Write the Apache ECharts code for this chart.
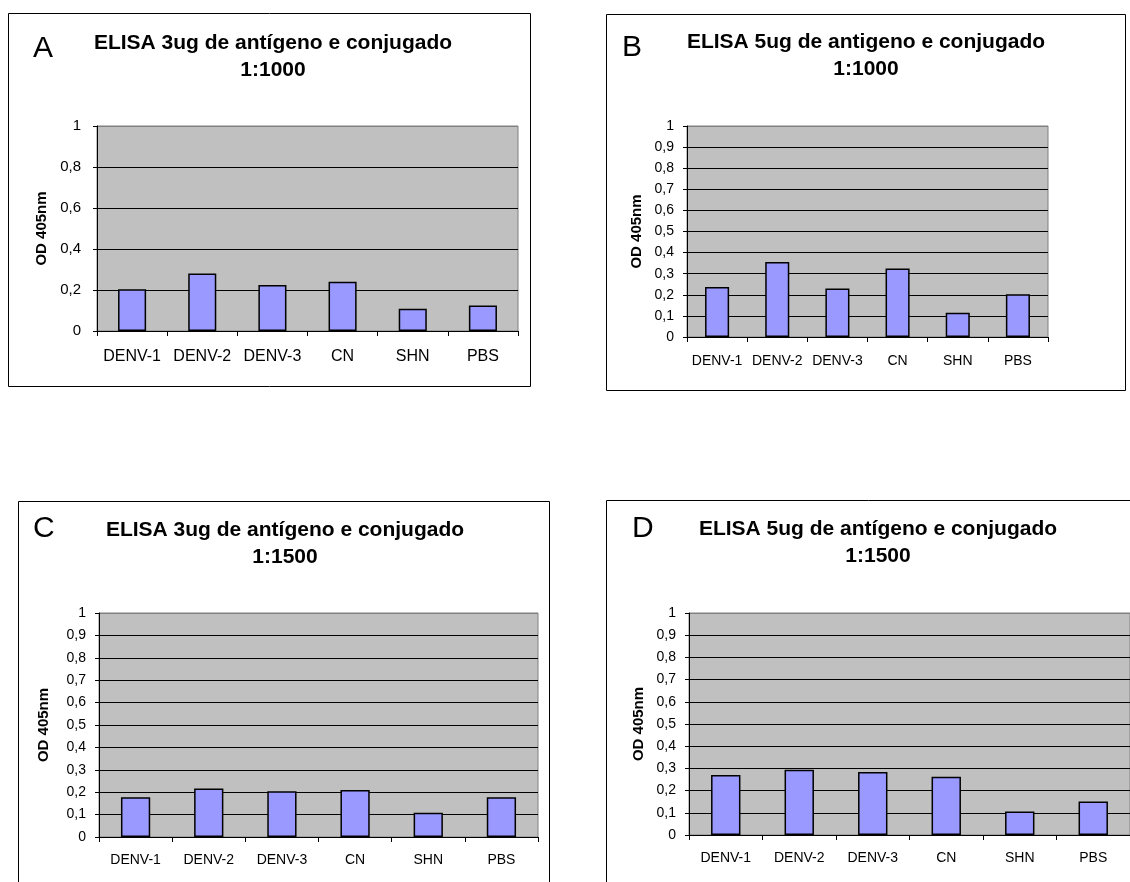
<!DOCTYPE html>
<html>
<head>
<meta charset="utf-8">
<script src="https://cdn.jsdelivr.net/npm/echarts@6/dist/echarts.min.js"></script>
<style>
html,body{margin:0;padding:0;background:#fff;}
#c{width:1130px;height:882px;}
</style>
</head>
<body>
<div id="c"></div>
<script>
var categories = ['DENV-1', 'DENV-2', 'DENV-3', 'CN', 'SHN', 'PBS'];
var valuesA = [0.204, 0.281, 0.225, 0.240, 0.109, 0.124];
var valuesB = [0.237, 0.356, 0.230, 0.325, 0.115, 0.203];
var valuesC = [0.177, 0.216, 0.204, 0.210, 0.108, 0.177];
var valuesD = [0.270, 0.294, 0.284, 0.262, 0.106, 0.151];
var titlesLine1 = ['ELISA 3ug de antígeno e conjugado', 'ELISA 5ug de antigeno e conjugado', 'ELISA 3ug de antígeno e conjugado', 'ELISA 5ug de antígeno e conjugado'];
var titlesLine2 = ['1:1000', '1:1000', '1:1500', '1:1500'];
var panelLetters = ['A', 'B', 'C', 'D'];
var yAxisName = 'OD 405nm';

var FONT = 'Arial, "Liberation Sans", sans-serif';

var panels = [
  {values: valuesA, grid: {left: 97, top: 126, width: 421, height: 205}, interval: 0.2, box: [8.5, 13.5, 522, 373],
   letter: [33, 48.5], titleX: 273, titleY: 43, xFont: 16, yFont: 15, yMargin: 16, xMargin: 18, nameGap: 48},
  {values: valuesB, grid: {left: 687, top: 126, width: 361, height: 211}, interval: 0.1, box: [606.5, 14.5, 519, 376],
   letter: [622, 48], titleX: 866, titleY: 42.5, xFont: 14, yFont: 14, yMargin: 13, xMargin: 17, nameGap: 43},
  {values: valuesC, grid: {left: 99, top: 613, width: 439, height: 224}, interval: 0.1, box: [18.5, 501.5, 531, 420],
   letter: [33, 529], titleX: 285, titleY: 530, xFont: 14, yFont: 14, yMargin: 13, xMargin: 16, nameGap: 48},
  {values: valuesD, grid: {left: 689, top: 613, width: 443, height: 222}, interval: 0.1, box: [606.5, 500.5, 560, 420],
   letter: [632, 528.5], titleX: 878, titleY: 529, xFont: 14, yFont: 14, yMargin: 13, xMargin: 16, nameGap: 43}
];

var option = {
  animation: false,
  backgroundColor: '#ffffff',
  title: [],
  grid: [],
  xAxis: [],
  yAxis: [],
  series: [],
  graphic: []
};

panels.forEach(function (p, i) {
  option.graphic.push({
    type: 'rect', z: 0, silent: true,
    shape: {x: p.box[0], y: p.box[1], width: p.box[2], height: p.box[3]},
    style: {fill: 'none', stroke: '#000', lineWidth: 1}
  });
  option.graphic.push({
    type: 'text', z: 10, silent: true,
    x: p.letter[0], y: p.letter[1],
    style: {text: panelLetters[i], font: '30px ' + FONT, fill: '#000', textAlign: 'left', textVerticalAlign: 'middle'}
  });
  option.title.push({
    text: titlesLine1[i] + '\n' + titlesLine2[i],
    left: p.titleX, top: p.titleY - 13.5,
    textAlign: 'center',
    padding: 0,
    textStyle: {fontFamily: FONT, fontSize: 21, fontWeight: 'bold', color: '#000', lineHeight: 27}
  });
  option.grid.push({
    left: p.grid.left, top: p.grid.top, width: p.grid.width, height: p.grid.height,
    show: true, backgroundColor: '#C0C0C0', borderColor: '#808080', borderWidth: 1
  });
  var nTicks = Math.round(1 / p.interval) + 1;
  var splitColors = [];
  for (var k = 0; k < nTicks; k++) splitColors.push(k === nTicks - 1 ? '#808080' : '#000000');
  option.xAxis.push({
    type: 'category', gridIndex: i, data: categories, boundaryGap: true,
    axisLine: {show: true, lineStyle: {color: '#000', width: 1}},
    axisTick: {show: true, length: 5, inside: false, alignWithLabel: false, lineStyle: {color: '#000'}},
    axisLabel: {color: '#000', fontFamily: FONT, fontSize: p.xFont, margin: p.xMargin, interval: 0},
    splitLine: {show: false}
  });
  option.yAxis.push({
    type: 'value', gridIndex: i, min: 0, max: 1, interval: p.interval,
    name: yAxisName, nameLocation: 'middle', nameGap: p.nameGap, nameRotate: 90,
    nameTextStyle: {fontFamily: FONT, fontSize: 15, fontWeight: 'bold', color: '#000'},
    axisLine: {show: true, lineStyle: {color: '#000', width: 1}},
    axisTick: {show: true, length: 4, inside: false, lineStyle: {color: '#000'}},
    axisLabel: {color: '#000', fontFamily: FONT, fontSize: p.yFont, margin: p.yMargin,
      formatter: function (v) { return String(Math.round(v * 10) / 10).replace('.', ','); }},
    splitLine: {show: true, lineStyle: {color: splitColors, width: 1}}
  });
  option.series.push({
    type: 'bar', xAxisIndex: i, yAxisIndex: i, data: p.values, barWidth: '40%',
    itemStyle: {color: '#9999FF', borderColor: '#000', borderWidth: 1.5},
    silent: true
  });
});

var chart = echarts.init(document.getElementById('c'), null, {renderer: 'canvas'});
chart.setOption(option);
</script>
</body>
</html>
